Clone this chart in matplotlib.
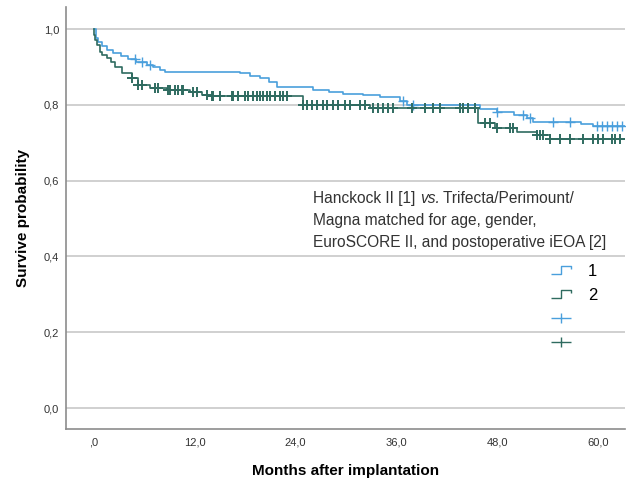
import numpy as np
import matplotlib.pyplot as plt
from matplotlib.path import Path
from matplotlib.lines import Line2D

plt.rcParams['font.family'] = ['Liberation Sans', 'DejaVu Sans']

# Kaplan-Meier steps (months, survival after step)
blue_t = [0, 0.2, 0.5, 0.9, 1.5, 2.3, 3.2, 4.0, 5.0, 6.3, 7.0, 7.8, 8.5, 17.4, 18.6, 19.8,
          20.8, 21.8, 26.1, 28.0, 29.6, 32.0, 34.0, 36.4, 37.3, 46.0, 48.0, 50.0, 51.5,
          52.3, 58.0, 59.4]
blue_s = [1.0, 0.975, 0.965, 0.955, 0.945, 0.937, 0.928, 0.92, 0.913, 0.906, 0.9, 0.893,
          0.887, 0.883, 0.877, 0.871, 0.86, 0.848, 0.839, 0.834, 0.829, 0.825, 0.82, 0.81,
          0.8, 0.79, 0.781, 0.774, 0.766, 0.755, 0.75, 0.743]
teal_t = [0, 0.05, 0.15, 0.3, 0.7, 1.0, 1.5, 2.0, 2.5, 3.3, 4.5, 5.2, 6.7, 8.7, 11.4, 12.8,
          13.6, 24.9, 32.9, 45.7, 47.7, 50.4, 52.7, 54.3]
teal_s = [1.0, 0.985, 0.97, 0.958, 0.94, 0.932, 0.924, 0.912, 0.9, 0.884, 0.871, 0.853,
          0.845, 0.84, 0.834, 0.827, 0.823, 0.80, 0.792, 0.753, 0.74, 0.729, 0.721, 0.71]
end_t = 63.2

# censored observations (months)
blue_cens = [4.9, 5.7, 6.7, 36.8, 38.0, 48.0, 51.1, 51.9, 54.6, 56.7, 59.9, 60.5, 61.1,
             61.7, 62.3, 62.9]
teal_cens = [4.5, 5.2, 5.7, 7.3, 7.6, 8.8, 9.0, 9.6, 10.0, 10.5, 10.6, 11.8, 12.3, 13.5,
             14.0, 14.2, 15.0, 16.4, 16.5, 17.1, 18.0, 18.3, 18.9, 19.4, 19.8, 20.1, 20.6,
             20.9, 21.5, 22.1, 22.5, 23.0, 24.9, 25.4, 26.0, 26.5, 27.3, 27.7, 28.5, 29.0,
             29.9, 30.5, 31.7, 32.3, 33.2, 33.8, 34.4, 35.0, 35.6, 37.9, 39.4, 40.4, 41.2,
             43.6, 43.9, 44.5, 45.4, 46.5, 47.1, 48.0, 49.5, 49.9, 52.7, 53.1, 53.5, 54.3,
             55.5, 56.7, 58.2, 59.4, 60.0, 60.6, 61.7, 62.0, 62.6]

xticks = [0, 12, 24, 36, 48, 60]
xlabels = [',0', '12,0', '24,0', '36,0', '48,0', '60,0']
yticks = [0.0, 0.2, 0.4, 0.6, 0.8, 1.0]
ylabels = ['0,0', '0,2', '0,4', '0,6', '0,8', '1,0']

c1 = '#4a9fdc'
c2 = '#2f6b60'


def surv_at(t, times, surv):
    i = np.searchsorted(times, t, side='right') - 1
    return np.asarray(surv)[i]


fig = plt.figure(figsize=(6.29, 4.78), dpi=100)
ax = fig.add_axes([0.105, 0.1025, 0.8886, 0.8828])

for y in yticks:
    ax.axhline(y, color='#c8c8c8', lw=1.2, zorder=0)

for t, s, cens, col, mew in [(blue_t, blue_s, blue_cens, c1, 1.0),
                             (teal_t, teal_s, teal_cens, c2, 1.4)]:
    tt = list(t) + [end_t]
    ss = list(s) + [s[-1]]
    ax.plot(tt, ss, drawstyle='steps-post', color=col, lw=1.2)
    ax.plot(cens, surv_at(cens, t, s), ls='none', marker='+', ms=7, mew=mew, color=col)

ax.set_xlim(-3.33, 63.2)
ax.set_ylim(-0.055, 1.058)
ax.set_xticks(xticks, xlabels)
ax.set_yticks(yticks, ylabels)
ax.tick_params(length=0, labelsize=8, labelcolor='#333333')
ax.tick_params(axis='x', pad=6)
ax.tick_params(axis='y', pad=5)
for side in ['top', 'right']:
    ax.spines[side].set_visible(False)
for side in ['left', 'bottom']:
    ax.spines[side].set_color('#8c8c8c')
    ax.spines[side].set_linewidth(1.2)

ax.set_xlabel('Months after implantation', fontsize=11, fontweight='bold', labelpad=12)
ax.set_ylabel('Survive probability', fontsize=11, fontweight='bold', labelpad=10)

# legend title: three lines, with italic "vs." in the first one
tkw = dict(transform=ax.transAxes, fontsize=11.2, color='#333333', va='baseline', ha='left')
x0, y0, dy = 0.442, 0.535, 0.052
renderer = fig.canvas.get_renderer()
inv = ax.transAxes.inverted()
x = x0
for part, style in [('Hanckock II [1] ', 'normal'), ('vs.', 'italic'),
                    (' Trifecta/Perimount/', 'normal')]:
    t = ax.text(x, y0, part, style=style, **tkw)
    bb = t.get_window_extent(renderer)
    x = inv.transform((bb.x1, bb.y0))[0]
ax.text(x0, y0 - dy, 'Magna matched for age, gender,', **tkw)
ax.text(x0, y0 - 2 * dy, 'EuroSCORE II, and postoperative iEOA [2]', **tkw)

step_path = Path([(-1, -0.35), (0, -0.35), (0, 0.35), (1, 0.35), (1, 0.1)])
plus_path = Path([(-1, 0), (1, 0), (0, -0.5), (0, 0.5)],
                 [Path.MOVETO, Path.LINETO, Path.MOVETO, Path.LINETO])
handles = [
    Line2D([], [], ls='none', marker=step_path, ms=15, mfc='none', mec=c1, mew=1.0),
    Line2D([], [], ls='none', marker=step_path, ms=15, mfc='none', mec=c2, mew=1.0),
    Line2D([], [], ls='none', marker=plus_path, ms=15, mfc='none', mec=c1, mew=1.0),
    Line2D([], [], ls='none', marker=plus_path, ms=15, mfc='none', mec=c2, mew=1.0),
]
ax.legend(handles, ['1', '2', '', ''], loc='upper left', bbox_to_anchor=(0.861, 0.392),
          frameon=False, fontsize=12, labelspacing=0.55, handlelength=1.6,
          handletextpad=0.85, borderpad=0, borderaxespad=0)

fig.savefig('out.png', dpi=100)
